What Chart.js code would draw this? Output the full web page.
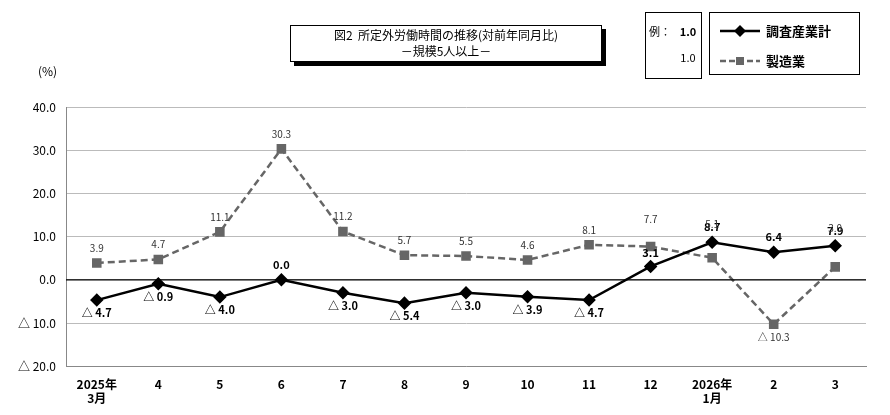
<!DOCTYPE html>
<html><head><meta charset="utf-8">
<script src="https://cdn.jsdelivr.net/npm/chart.js@4"></script>
<style>body{margin:0;background:#fff}#wrap{width:890px;height:415px}</style>
</head><body><div id="wrap"><canvas id="chart"></canvas></div>
<script>
const categories = [['2025年','3月'],'4','5','6','7','8','9','10','11','12',['2026年','1月'],'2','3'];
const allIndustries = [-4.7, -0.9, -4.0, 0.0, -3.0, -5.4, -3.0, -3.9, -4.7, 3.1, 8.7, 6.4, 7.9];
const manufacturing = [3.9, 4.7, 11.1, 30.3, 11.2, 5.7, 5.5, 4.6, 8.1, 7.7, 5.1, -10.3, 3.0];
// label placement: 1 = above point, -1 = below
const allPos = [-1, -1, -1, 1, -1, -1, -1, -1, -1, 1, 1, 1, 1];
const mfgPos = [1, 1, 1, 1, 1, 1, 1, 1, 1, 1, 1, -1, 1];

const fmt = v => v < 0 ? '△ ' + Math.abs(v).toFixed(1) : v.toFixed(1);
const FONT = '"Noto Sans CJK JP", "DejaVu Sans", sans-serif';

const decor = {
  id: 'decor',
  afterDraw(chart) {
    const c = chart.ctx, x = chart.scales.x, y = chart.scales.y;
    c.save();
    c.textAlign = 'center';
    // point labels
    [[allIndustries, allPos, 0, 'bold 11px '], [manufacturing, mfgPos, 1, '10px ']].forEach(([vals, pos, di, f]) => {
      c.font = f + FONT;
      c.fillStyle = di ? '#333' : '#000';
      vals.forEach((v, i) => {
        let px = x.getPixelForValue(i), py = y.getPixelForValue(v);
        let ty = py + (pos[i] > 0 ? -11 : 17);
        if (di === 1 && i === 9) ty = py - 24;
        if (di === 0 && i === 9) ty = py - 9;
        // gray labels that sit above the black line
        if (di === 1 && (i === 10 || i === 12)) ty = y.getPixelForValue(allIndustries[i]) - 14;
        c.fillText(fmt(v), px, ty);
      });
    });
    // zero line
    c.strokeStyle = '#000'; c.lineWidth = 1.2;
    const zy = y.getPixelForValue(0);
    c.beginPath(); c.moveTo(chart.chartArea.left, zy); c.lineTo(chart.chartArea.right, zy); c.stroke();
    // unit
    c.fillStyle = '#000';
    c.font = '12px ' + FONT; c.textAlign = 'left';
    c.fillText('(%)', 38, 76);
    // title box with shadow
    c.fillStyle = '#000'; c.fillRect(294, 29, 312, 37);
    c.fillStyle = '#fff'; c.fillRect(290, 25, 312, 37);
    c.strokeStyle = '#000'; c.lineWidth = 1; c.strokeRect(290.5, 25.5, 311, 36);
    c.fillStyle = '#000'; c.font = '12px ' + FONT; c.textAlign = 'center';
    c.fillText('図2  所定外労働時間の推移(対前年同月比)', 446, 40);
    c.fillText('－規模5人以上－', 446, 56);
    // example box
    c.strokeRect(645.5, 12.5, 56, 66);
    c.font = '11px ' + FONT;
    c.fillText('例：', 660, 36);
    c.font = 'bold 11px ' + FONT; c.fillText('1.0', 688, 36);
    c.font = '11px ' + FONT; c.fillText('1.0', 688, 62);
    // legend box
    c.strokeRect(709.5, 12.5, 150, 62);
    c.lineWidth = 2.5;
    c.beginPath(); c.moveTo(720, 31); c.lineTo(760, 31); c.stroke();
    c.beginPath(); c.moveTo(740, 25); c.lineTo(746, 31); c.lineTo(740, 37); c.lineTo(734, 31); c.closePath(); c.fill();
    c.strokeStyle = '#666'; c.setLineDash([6, 3]);
    c.beginPath(); c.moveTo(720, 61); c.lineTo(760, 61); c.stroke();
    c.setLineDash([]); c.fillStyle = '#666'; c.fillRect(736, 57, 8, 8);
    c.fillStyle = '#000'; c.font = 'bold 13px ' + FONT; c.textAlign = 'left';
    c.fillText('調査産業計', 766, 36);
    c.fillText('製造業', 766, 66);
    c.restore();
  }
};

new Chart(document.getElementById('chart'), {
  type: 'line',
  data: {
    labels: categories,
    datasets: [
      { data: allIndustries, borderColor: '#000', backgroundColor: '#000', borderWidth: 2.5,
        pointStyle: 'rectRot', pointRadius: 5, tension: 0 },
      { data: manufacturing, borderColor: '#666', backgroundColor: '#666', borderWidth: 2.5,
        borderDash: [7, 4], pointStyle: 'rect', pointRadius: 5, tension: 0 }
    ]
  },
  options: {
    responsive: true, maintainAspectRatio: false, animation: false,
    layout: { padding: { top: 107, right: 24, left: 8, bottom: 6 } },
    plugins: { legend: { display: false }, tooltip: { enabled: false } },
    scales: {
      x: { offset: true, grid: { display: false }, border: { color: '#888' },
           ticks: { color: '#000', font: { size: 12, weight: 'bold', family: FONT }, maxRotation: 0 } },
      y: { min: -20, max: 40, border: { color: '#888' },
           grid: { color: '#bbb', drawTicks: false },
           ticks: { stepSize: 10, color: '#000', padding: 10, font: { size: 12, family: FONT },
                    callback: v => fmt(v) } }
    }
  },
  plugins: [decor]
});
</script></body></html>
